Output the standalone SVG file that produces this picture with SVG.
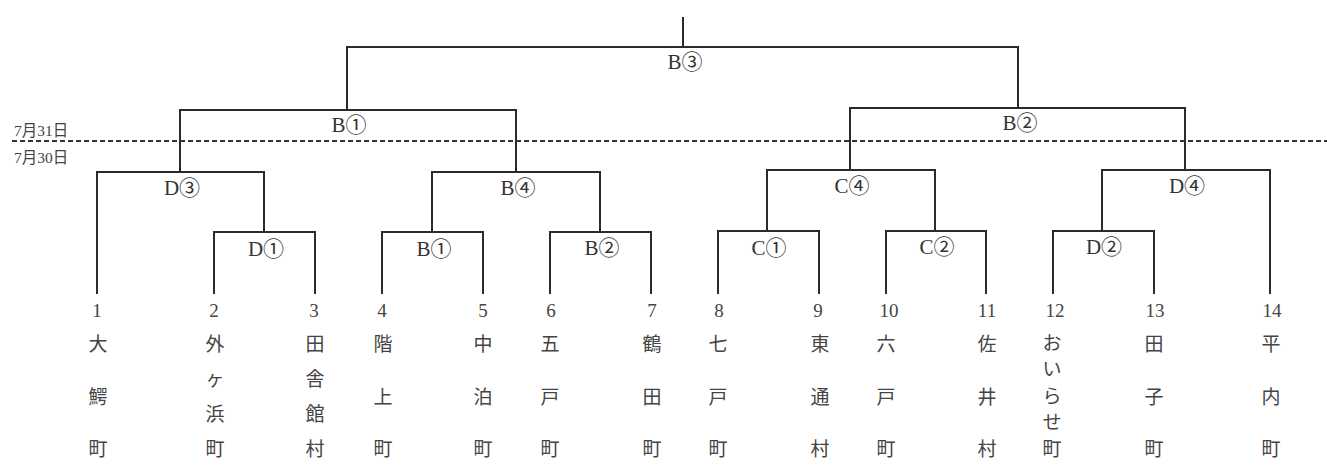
<svg xmlns="http://www.w3.org/2000/svg" width="1327" height="473" viewBox="0 0 1327 473">
<style>
.ln{fill:none;stroke:#2b2b2b;stroke-width:2;stroke-linecap:square}
.dash{fill:none;stroke:#333;stroke-width:2;stroke-dasharray:5 3}
.lbl{font-family:"Liberation Serif","Noto Sans CJK JP",serif;font-size:21px;fill:#333;text-anchor:middle;dominant-baseline:central}
.num{font-family:"Liberation Serif",serif;font-size:19px;fill:#444;text-anchor:middle;dominant-baseline:central}
.nm{font-family:"Noto Sans CJK JP",sans-serif;font-size:19px;fill:#444;text-anchor:middle;dominant-baseline:central}
.date{font-family:"Liberation Serif","Noto Sans CJK JP",serif;font-size:15.5px;fill:#444;dominant-baseline:central}
</style>
<rect width="1327" height="473" fill="#fff"/>
<g id="connectors">
<path class="ln" d="M683 18 V47" stroke-width="1.5"/>
<path class="ln" d="M347 110 V47 H1018 V108"/>
<path class="ln" d="M180 172 V110 H516 V172"/>
<path class="ln" d="M850 170 V108 H1185 V170"/>
<path class="ln" d="M97 293 V172 H264 V232"/>
<path class="ln" d="M432 232 V172 H600 V232"/>
<path class="ln" d="M767 231 V170 H935 V231"/>
<path class="ln" d="M1102 231 V170 H1270 V293"/>
<path class="ln" d="M214 293 V232 H315 V293"/>
<path class="ln" d="M382 293 V232 H483 V293"/>
<path class="ln" d="M550 293 V232 H651 V293"/>
<path class="ln" d="M718 293 V231 H819 V293"/>
<path class="ln" d="M886 293 V231 H986 V293"/>
<path class="ln" d="M1053 293 V231 H1154 V293"/>
<path class="dash" d="M12 141 H1327"/>
</g>
<g id="dates">
<text class="date" x="14" y="130">7月31日</text>
<text class="date" x="14" y="157">7月30日</text>
</g>
<g id="m-final"><text class="lbl" x="685" y="62">B③</text></g>
<g id="m-semi1"><text class="lbl" x="349" y="125">B①</text></g>
<g id="m-semi2"><text class="lbl" x="1020" y="123">B②</text></g>
<g id="m-qf1"><text class="lbl" x="182" y="188">D③</text></g>
<g id="m-qf2"><text class="lbl" x="518" y="188">B④</text></g>
<g id="m-qf3"><text class="lbl" x="852" y="186">C④</text></g>
<g id="m-qf4"><text class="lbl" x="1187" y="186">D④</text></g>
<g id="m-r1a"><text class="lbl" x="266" y="249">D①</text></g>
<g id="m-r1b"><text class="lbl" x="434" y="249">B①</text></g>
<g id="m-r1c"><text class="lbl" x="602" y="248">B②</text></g>
<g id="m-r1d"><text class="lbl" x="769" y="248">C①</text></g>
<g id="m-r1e"><text class="lbl" x="937" y="247">C②</text></g>
<g id="m-r1f"><text class="lbl" x="1104" y="247">D②</text></g>
<g id="t1"><text class="num" x="97" y="310">1</text><text class="nm" x="98" y="342">大</text><text class="nm" x="98" y="395">鰐</text><text class="nm" x="98" y="447">町</text></g>
<g id="t2"><text class="num" x="214" y="310">2</text><text class="nm" x="215" y="342">外</text><text class="nm" x="215" y="377">ヶ</text><text class="nm" x="215" y="412">浜</text><text class="nm" x="215" y="447">町</text></g>
<g id="t3"><text class="num" x="314" y="310">3</text><text class="nm" x="315" y="342">田</text><text class="nm" x="315" y="377">舎</text><text class="nm" x="315" y="412">館</text><text class="nm" x="315" y="447">村</text></g>
<g id="t4"><text class="num" x="382" y="310">4</text><text class="nm" x="383" y="342">階</text><text class="nm" x="383" y="395">上</text><text class="nm" x="383" y="447">町</text></g>
<g id="t5"><text class="num" x="483" y="310">5</text><text class="nm" x="483" y="342">中</text><text class="nm" x="483" y="395">泊</text><text class="nm" x="483" y="447">町</text></g>
<g id="t6"><text class="num" x="551" y="310">6</text><text class="nm" x="550" y="342">五</text><text class="nm" x="550" y="395">戸</text><text class="nm" x="550" y="447">町</text></g>
<g id="t7"><text class="num" x="652" y="310">7</text><text class="nm" x="652" y="342">鶴</text><text class="nm" x="652" y="395">田</text><text class="nm" x="652" y="447">町</text></g>
<g id="t8"><text class="num" x="719" y="310">8</text><text class="nm" x="718" y="342">七</text><text class="nm" x="718" y="395">戸</text><text class="nm" x="718" y="447">町</text></g>
<g id="t9"><text class="num" x="818" y="310">9</text><text class="nm" x="820" y="342">東</text><text class="nm" x="820" y="395">通</text><text class="nm" x="820" y="447">村</text></g>
<g id="t10"><text class="num" x="889" y="310">10</text><text class="nm" x="886" y="342">六</text><text class="nm" x="886" y="395">戸</text><text class="nm" x="886" y="447">町</text></g>
<g id="t11"><text class="num" x="987" y="310">11</text><text class="nm" x="987" y="342">佐</text><text class="nm" x="987" y="395">井</text><text class="nm" x="987" y="447">村</text></g>
<g id="t12"><text class="num" x="1055" y="310">12</text><text class="nm" x="1052" y="341">お</text><text class="nm" x="1052" y="367">い</text><text class="nm" x="1052" y="394">ら</text><text class="nm" x="1052" y="420">せ</text><text class="nm" x="1052" y="447">町</text></g>
<g id="t13"><text class="num" x="1155" y="310">13</text><text class="nm" x="1154" y="342">田</text><text class="nm" x="1154" y="395">子</text><text class="nm" x="1154" y="447">町</text></g>
<g id="t14"><text class="num" x="1272" y="310">14</text><text class="nm" x="1271" y="342">平</text><text class="nm" x="1271" y="395">内</text><text class="nm" x="1271" y="447">町</text></g>
</svg>
